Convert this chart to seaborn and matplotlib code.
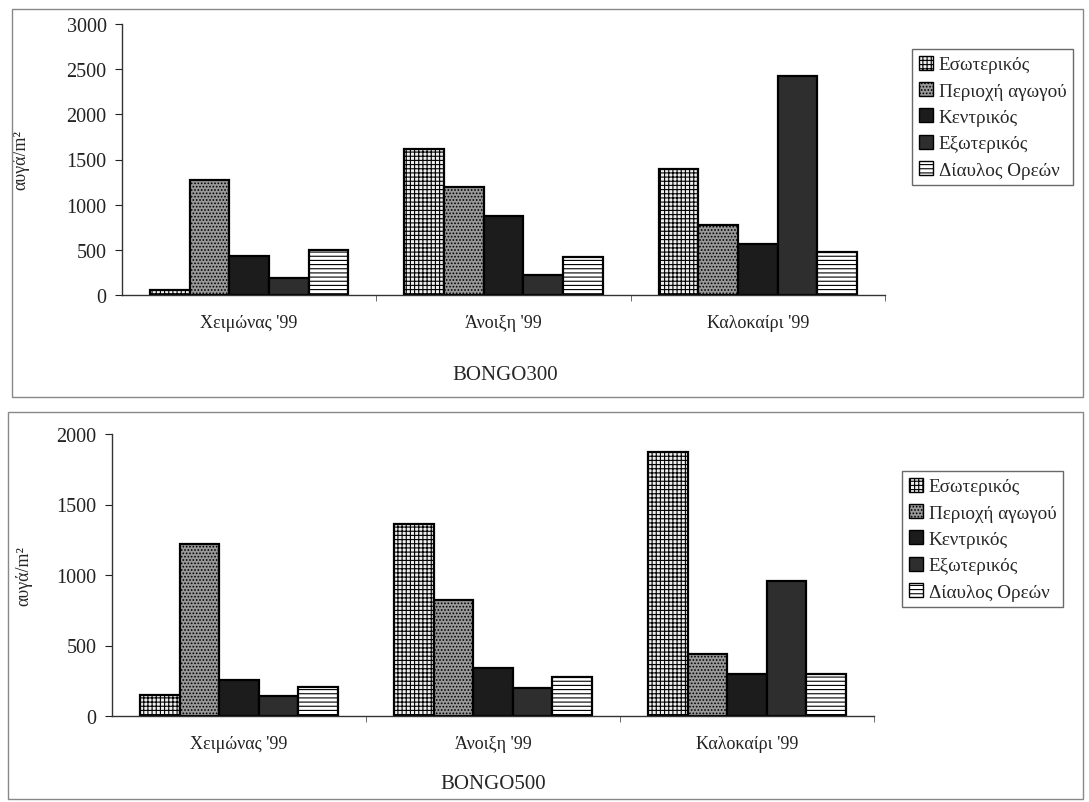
import matplotlib
matplotlib.use("Agg")
import matplotlib.pyplot as plt
from matplotlib.patches import Patch, Rectangle
import seaborn as sns
import pandas as pd

sns.set_style("white")
plt.rcParams['font.family'] = ['Liberation Serif', 'DejaVu Serif']
plt.rcParams['hatch.linewidth'] = 0.8

seasons = ["Χειμώνας '99", "Άνοιξη '99", "Καλοκαίρι '99"]
sites = ["Εσωτερικός", "Περιοχή αγωγού", "Κεντρικός", "Εξωτερικός", "Δίαυλος Ορεών"]

# BONGO300 values (αυγά/m²), per site across seasons
b300_esoterikos = [60, 1620, 1400]
b300_periochi = [1270, 1200, 780]
b300_kentrikos = [430, 880, 570]
b300_exoterikos = [190, 220, 2420]
b300_diavlos = [500, 420, 480]

# BONGO500 values
b500_esoterikos = [150, 1360, 1870]
b500_periochi = [1220, 820, 440]
b500_kentrikos = [255, 340, 295]
b500_exoterikos = [140, 200, 960]
b500_diavlos = [205, 280, 295]

styles = {
    "Εσωτερικός": dict(fc="#eeeeee", hatch="++++"),
    "Περιοχή αγωγού": dict(fc="#999999", hatch="....."),
    "Κεντρικός": dict(fc="#1c1c1c", hatch=None),
    "Εξωτερικός": dict(fc="#2e2e2e", hatch=None),
    "Δίαυλος Ορεών": dict(fc="#ffffff", hatch="----"),
}


def make_df(series):
    rows = []
    for site, vals in zip(sites, series):
        for s, v in zip(seasons, vals):
            rows.append(dict(season=s, site=site, value=v))
    return pd.DataFrame(rows)


df300 = make_df([b300_esoterikos, b300_periochi, b300_kentrikos, b300_exoterikos, b300_diavlos])
df500 = make_df([b500_esoterikos, b500_periochi, b500_kentrikos, b500_exoterikos, b500_diavlos])

W, H = 1089, 803
fig = plt.figure(figsize=(W / 100, H / 100), dpi=100)

# panel frames
fig.patches.append(Rectangle((12 / W, 1 - 398 / H), (1083 - 12) / W, (398 - 10) / H,
                             transform=fig.transFigure, fill=False, ec="#888888", lw=1.0))
fig.patches.append(Rectangle((8 / W, 1 - 800 / H), (1083 - 8) / W, (800 - 413) / H,
                             transform=fig.transFigure, fill=False, ec="#888888", lw=1.0))

ax1 = fig.add_axes([122 / W, 1 - 296 / H, (885 - 122) / W, (296 - 25) / H])
ax2 = fig.add_axes([112 / W, 1 - 717 / H, (874 - 112) / W, (717 - 435) / H])

palette = {s: styles[s]["fc"] for s in sites}

for ax, df, ymax, yticks in [(ax1, df300, 3000, range(0, 3001, 500)),
                             (ax2, df500, 2000, range(0, 2001, 500))]:
    sns.barplot(data=df, x="season", y="value", hue="site", order=seasons,
                hue_order=sites, palette=palette, width=0.78, ax=ax,
                edgecolor="black", linewidth=1.6, legend=False, saturation=1)
    for cont, site in zip(ax.containers, sites):
        for p in cont:
            if styles[site]["hatch"]:
                p.set_hatch(styles[site]["hatch"])
    ax.set_xlim(-0.5, 2.5)
    ax.set_ylim(0, ymax)
    ax.set_yticks(list(yticks))
    ax.set_xlabel("")
    ax.set_ylabel("αυγά/m²", fontsize=13)
    for sp in ["top", "right"]:
        ax.spines[sp].set_visible(False)
    for sp in ["left", "bottom"]:
        ax.spines[sp].set_color("#333333")
        ax.spines[sp].set_linewidth(1.0)
    ax.tick_params(axis="y", which="major", direction="out", length=5, left=True,
                   labelsize=14.5, colors="#222222", pad=6)
    ax.tick_params(axis="x", which="major", length=0, labelsize=13, pad=14, colors="#222222")
    ax.set_xticks([0.5, 1.5, 2.5], minor=True)
    ax.tick_params(axis="x", which="minor", direction="out", length=4, bottom=True,
                   color="#555555")
    ax.set_facecolor("none")

ax1.yaxis.set_label_coords(-0.122, 0.5)
ax2.yaxis.set_label_coords(-0.104, 0.5)

fig.text(505 / W, 1 - 376 / H, "BONGO300", ha="center", va="center", fontsize=15)
fig.text(493 / W, 1 - 785 / H, "BONGO500", ha="center", va="center", fontsize=15)

handles = [Patch(facecolor=styles[s]["fc"], edgecolor="black", hatch=styles[s]["hatch"], lw=1.0)
           for s in sites]
for anchor in [(912 / W, 1 - 50 / H), (902 / W, 1 - 472 / H)]:
    leg = fig.legend(handles, sites, loc="upper left", bbox_to_anchor=anchor,
                     fontsize=13.8, frameon=True, fancybox=False, edgecolor="#444444",
                     handlelength=0.75, handleheight=0.75, handletextpad=0.3,
                     labelspacing=0.45, borderpad=0.35, borderaxespad=0)
    leg.get_frame().set_linewidth(1.0)

fig.savefig("out.png", dpi=100, facecolor="white")
